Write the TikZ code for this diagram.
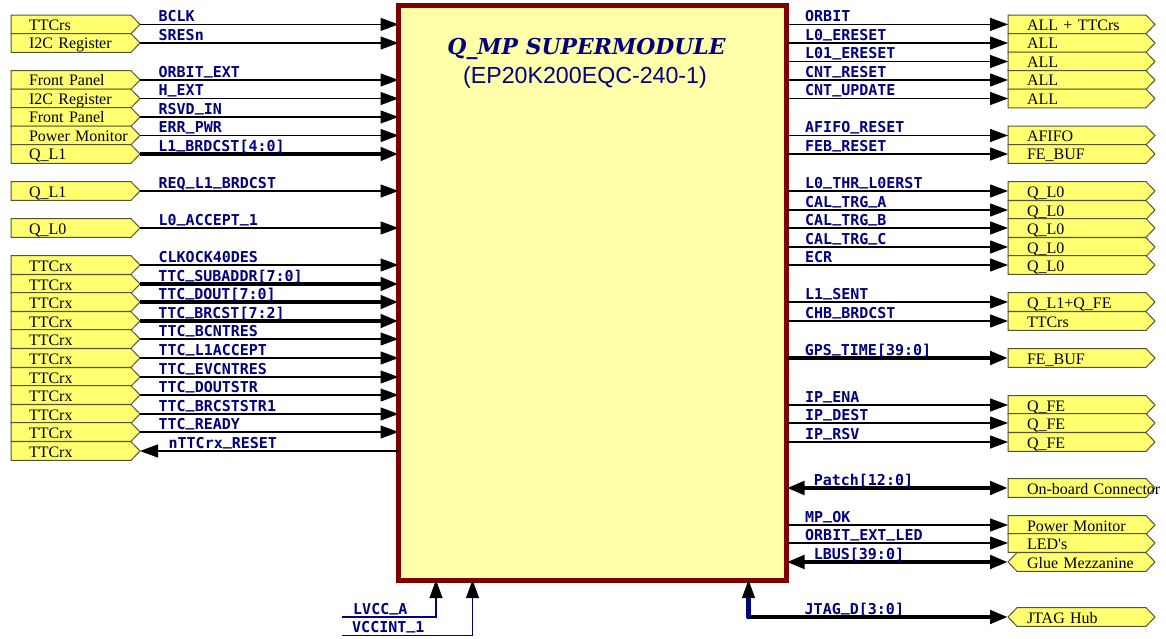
\documentclass[tikz,border=0pt]{standalone}
\usepackage{fontspec}
\setmainfont{Liberation Serif}
\newfontfamily\sigfont{DejaVu Sans Mono}
\newfontfamily\titlefont{DejaVu Serif}
\newfontfamily\subfont{Liberation Sans}
\usetikzlibrary{arrows.meta,shapes.symbols}
\definecolor{portfill}{RGB}{255,255,112}
\definecolor{portline}{RGB}{85,85,50}
\definecolor{chipfill}{RGB}{255,255,170}
\definecolor{chipline}{RGB}{128,0,0}
\definecolor{signavy}{RGB}{0,0,128}
\newcommand{\ubar}{\raisebox{2.4pt}{\_}}
\tikzset{
	port/.style={shape=signal, draw=portline, fill=portfill, line width=1pt, inner sep=0pt, outer sep=0pt,
		minimum height=18.6pt, signal pointer angle=92, font=\fontsize{16}{16}\selectfont, text height=12pt, text depth=0pt, align=left, anchor=west},
	inport/.style={port, signal to=east, minimum width=129pt, text width=100pt, execute at begin node=\hspace*{8pt}},
	outport/.style={port, signal to=east, minimum width=147pt, text width=118pt, execute at begin node=\hspace*{9pt}},
	bothport/.style={port, signal to=east and west, minimum width=147pt, text width=118pt, execute at begin node=\hspace*{4.5pt}},
	sig/.style={line width=1.3pt, -{Triangle[length=18pt,width=13pt]}},
	bus/.style={line width=4.5pt, -{Triangle[length=18pt,width=13pt]}},
	dualbus/.style={line width=4.5pt, {Triangle[length=18pt,width=13pt]}-{Triangle[length=18pt,width=13pt]}},
	siglabel/.style={anchor=base west, text=signavy, inner sep=0pt, font=\sigfont\bfseries\fontsize{15}{15}\selectfont},
	onsig/.style={siglabel, pos=0, xshift=18pt, yshift=2.8pt},
	onbus/.style={siglabel, pos=0, xshift=16pt, yshift=2.8pt},
	pwr/.style={draw=signavy, line width=1.3pt},
	pwrtip/.style={-{Triangle[length=18pt,width=13pt]}},
}
\begin{document}
\begin{tikzpicture}[x=1pt, y=-1pt]
	\useasboundingbox (0,0) rectangle (1166,639);
	% 1. main block
	\node[draw=chipline, fill=chipfill, line width=5pt, outer sep=0pt, minimum width=388pt, minimum height=574pt] (chip) at (592.5,293) {};
	\node[text=signavy, inner sep=0pt, anchor=base, font=\titlefont\bfseries\itshape\fontsize{21.9}{22}\selectfont] (title) at (586.5,55) {Q\_MP SUPERMODULE};
	\node[text=signavy, inner sep=0pt, anchor=base, font=\subfont\fontsize{23.2}{24}\selectfont] (subtitle) at (585,84) {(EP20K200EQC-240-1)};

	% 2. left ports
	\node[inport] (pbclk) at (11,24.4) {TTCrs};
	\node[inport] (psres) at (11,43) {I2C Register};
	\node[inport] (porbext) at (11,80) {Front Panel};
	\node[inport] (phext) at (11,98.5) {I2C Register};
	\node[inport] (prsvd) at (11,117) {Front Panel};
	\node[inport] (perr) at (11,135.5) {\mbox{Power Monitor}};
	\node[inport] (plonebr) at (11,154) {Q\_L1};
	\node[inport] (preq) at (11,191) {Q\_L1};
	\node[inport] (placc) at (11,228) {Q\_L0};
	\node[inport] (pclk) at (11,265) {TTCrx};
	\node[inport] (psub) at (11,284) {TTCrx};
	\node[inport] (pdout) at (11,302) {TTCrx};
	\node[inport] (pbrc) at (11,321) {TTCrx};
	\node[inport] (pbcn) at (11,339) {TTCrx};
	\node[inport] (plone) at (11,358) {TTCrx};
	\node[inport] (pevc) at (11,377) {TTCrx};
	\node[inport] (pdstr) at (11,395) {TTCrx};
	\node[inport] (pbstr) at (11,414) {TTCrx};
	\node[inport] (prdy) at (11,432) {TTCrx};
	\node[inport] (prst) at (11,451) {TTCrx};

	% 3. left connectors
	\draw[sig] (pbclk.east) -- (pbclk.east -| chip.west) node[onsig] (lbclk) {BCLK};
	\draw[sig] (psres.east) -- (psres.east -| chip.west) node[onsig] (lsres) {SRESn};
	\draw[sig] (porbext.east) -- (porbext.east -| chip.west) node[onsig] (lorbext) {ORBIT\ubar EXT};
	\draw[sig] (phext.east) -- (phext.east -| chip.west) node[onsig] (lhext) {H\ubar EXT};
	\draw[sig] (prsvd.east) -- (prsvd.east -| chip.west) node[onsig] (lrsvd) {RSVD\ubar IN};
	\draw[sig] (perr.east) -- (perr.east -| chip.west) node[onsig] (lerr) {ERR\ubar PWR};
	\draw[bus] (plonebr.east) -- (plonebr.east -| chip.west) node[onbus] (llonebr) {L1\ubar BRDCST[4:0]};
	\draw[sig] (preq.east) -- (preq.east -| chip.west) node[onsig] (lreq) {REQ\ubar L1\ubar BRDCST};
	\draw[sig] (placc.east) -- (placc.east -| chip.west) node[onsig] (llacc) {L0\ubar ACCEPT\ubar 1};
	\draw[sig] (pclk.east) -- (pclk.east -| chip.west) node[onsig] (lclk) {CLKOCK40DES};
	\draw[bus] (psub.east) -- (psub.east -| chip.west) node[onbus] (lsub) {TTC\ubar SUBADDR[7:0]};
	\draw[bus] (pdout.east) -- (pdout.east -| chip.west) node[onbus] (ldout) {TTC\ubar DOUT[7:0]};
	\draw[bus] (pbrc.east) -- (pbrc.east -| chip.west) node[onbus] (lbrc) {TTC\ubar BRCST[7:2]};
	\draw[sig] (pbcn.east) -- (pbcn.east -| chip.west) node[onsig] (lbcn) {TTC\ubar BCNTRES};
	\draw[sig] (plone.east) -- (plone.east -| chip.west) node[onsig] (llone) {TTC\ubar L1ACCEPT};
	\draw[sig] (pevc.east) -- (pevc.east -| chip.west) node[onsig] (levc) {TTC\ubar EVCNTRES};
	\draw[sig] (pdstr.east) -- (pdstr.east -| chip.west) node[onsig] (ldstr) {TTC\ubar DOUTSTR};
	\draw[sig] (pbstr.east) -- (pbstr.east -| chip.west) node[onsig] (lbstr) {TTC\ubar BRCSTSTR1};
	\draw[sig] (prdy.east) -- (prdy.east -| chip.west) node[onsig] (lrdy) {TTC\ubar READY};
	\draw[sig] (prst.east -| chip.west) -- (prst.east) node[onsig, pos=1, xshift=10pt] (lrst) {nTTCrx\ubar RESET};

	% 4. right ports
	\node[outport] (qorb) at (1008,24.4) {ALL + TTCrs};
	\node[outport] (qlo) at (1008,43) {ALL};
	\node[outport] (qlone) at (1008,61.5) {ALL};
	\node[outport] (qcnt) at (1008,80) {ALL};
	\node[outport] (qupd) at (1008,98.5) {ALL};
	\node[outport] (qafifo) at (1008,135.5) {AFIFO};
	\node[outport] (qfeb) at (1008,154) {FE\_BUF};
	\node[outport] (qthr) at (1008,191) {Q\_L0};
	\node[outport] (qcala) at (1008,210) {Q\_L0};
	\node[outport] (qcalb) at (1008,228) {Q\_L0};
	\node[outport] (qcalc) at (1008,247) {Q\_L0};
	\node[outport] (qecr) at (1008,265) {Q\_L0};
	\node[outport] (qsent) at (1008,302) {Q\_L1+Q\_FE};
	\node[outport] (qchb) at (1008,321) {TTCrs};
	\node[outport] (qgps) at (1008,358) {FE\_BUF};
	\node[outport] (qena) at (1008,405) {Q\_FE};
	\node[outport] (qdest) at (1008,423) {Q\_FE};
	\node[outport] (qrsv) at (1008,442) {Q\_FE};
	\node[outport] (qpatch) at (1008,488) {\mbox{On-board Connector}};
	\node[outport] (qok) at (1008,525) {Power Monitor};
	\node[outport] (qled) at (1008,543) {LED\textquotesingle s};
	\node[bothport] (qlbus) at (1008,562) {Glue Mezzanine};
	\node[bothport] (qjtag) at (1008,617) {JTAG Hub};

	% 5. right connectors
	\draw[sig] (qorb.west -| chip.east) -- (qorb.west) node[onsig] (rorb) {ORBIT};
	\draw[sig] (qlo.west -| chip.east) -- (qlo.west) node[onsig] (rlo) {L0\ubar ERESET};
	\draw[sig] (qlone.west -| chip.east) -- (qlone.west) node[onsig] (rlone) {L01\ubar ERESET};
	\draw[sig] (qcnt.west -| chip.east) -- (qcnt.west) node[onsig] (rcnt) {CNT\ubar RESET};
	\draw[sig] (qupd.west -| chip.east) -- (qupd.west) node[onsig] (rupd) {CNT\ubar UPDATE};
	\draw[sig] (qafifo.west -| chip.east) -- (qafifo.west) node[onsig] (rafifo) {AFIFO\ubar RESET};
	\draw[sig] (qfeb.west -| chip.east) -- (qfeb.west) node[onsig] (rfeb) {FEB\ubar RESET};
	\draw[sig] (qthr.west -| chip.east) -- (qthr.west) node[onsig] (rthr) {L0\ubar THR\ubar L0ERST};
	\draw[sig] (qcala.west -| chip.east) -- (qcala.west) node[onsig] (rcala) {CAL\ubar TRG\ubar A};
	\draw[sig] (qcalb.west -| chip.east) -- (qcalb.west) node[onsig] (rcalb) {CAL\ubar TRG\ubar B};
	\draw[sig] (qcalc.west -| chip.east) -- (qcalc.west) node[onsig] (rcalc) {CAL\ubar TRG\ubar C};
	\draw[sig] (qecr.west -| chip.east) -- (qecr.west) node[onsig] (recr) {ECR};
	\draw[sig] (qsent.west -| chip.east) -- (qsent.west) node[onsig] (rsent) {L1\ubar SENT};
	\draw[sig] (qchb.west -| chip.east) -- (qchb.west) node[onsig] (rchb) {CHB\ubar BRDCST};
	\draw[bus] (qgps.west -| chip.east) -- (qgps.west) node[onbus] (rgps) {GPS\ubar TIME[39:0]};
	\draw[sig] (qena.west -| chip.east) -- (qena.west) node[onsig] (rena) {IP\ubar ENA};
	\draw[sig] (qdest.west -| chip.east) -- (qdest.west) node[onsig] (rdest) {IP\ubar DEST};
	\draw[sig] (qrsv.west -| chip.east) -- (qrsv.west) node[onsig] (rrsv) {IP\ubar RSV};
	\draw[dualbus] (qpatch.west -| chip.east) -- (qpatch.west) node[onbus, xshift=9pt] (rpatch) {Patch[12:0]};
	\draw[sig] (qok.west -| chip.east) -- (qok.west) node[onsig] (rok) {MP\ubar OK};
	\draw[sig] (qled.west -| chip.east) -- (qled.west) node[onsig] (rled) {ORBIT\ubar EXT\ubar LED};
	\draw[dualbus] (qlbus.west -| chip.east) -- (qlbus.west) node[onbus, xshift=9pt] (rlbus) {LBUS[39:0]};

	% 6. bottom lines
	\coordinate (jtagtop) at (748.5,580);
	\coordinate (jtagneck) at (748.5,598);
	\coordinate (jtagcorner) at (748.5,617);
	\draw[line width=4.5pt, line cap=round, signavy] (jtagneck) -- (jtagcorner);
	\draw[pwrtip] (jtagneck) -- (jtagtop);
	\draw[bus] (jtagcorner) -- (qjtag.west);
	\node[siglabel] (rjtag) at (804.5,614) {JTAG\ubar D[3:0]};
	\coordinate (lvccend) at (342,617);
	\coordinate (lvcctop) at (436,580);
	\coordinate (lvccneck) at (436,598);
	\coordinate (vccend) at (342,635.5);
	\coordinate (vcctop) at (472.5,580);
	\coordinate (vccneck) at (472.5,598);
	\draw[pwr] (lvccend) -| (lvccneck);
	\draw[pwr] (vccend) -| (vccneck);
	\draw[pwrtip] (lvccneck) -- (lvcctop);
	\draw[pwrtip] (vccneck) -- (vcctop);
	\node[siglabel] (llvcc) at (353,614) {LVCC\ubar A};
	\node[siglabel] (lvcc) at (352,632) {VCCINT\ubar 1};
\end{tikzpicture}
\end{document}
